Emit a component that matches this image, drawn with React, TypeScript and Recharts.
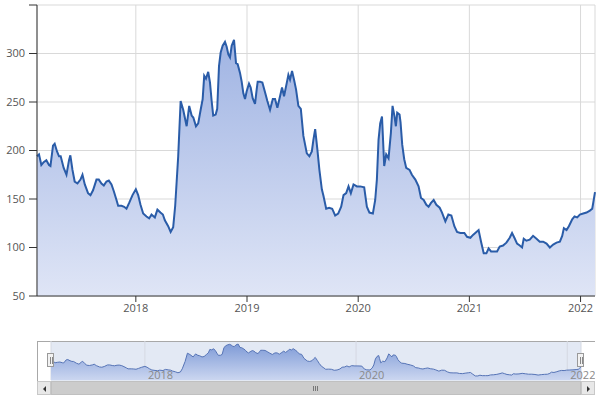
import { AreaChart, Area, XAxis, YAxis, CartesianGrid } from "recharts";

// time as fractional year, close value
const years = [
  2017.111, 2017.129, 2017.15, 2017.171, 2017.195, 2017.219, 2017.232, 2017.255, 2017.27, 2017.291,
  2017.309, 2017.324, 2017.351, 2017.376, 2017.399, 2017.411, 2017.43, 2017.45, 2017.475, 2017.502,
  2017.52, 2017.541, 2017.57, 2017.592, 2017.615, 2017.646, 2017.667, 2017.691, 2017.712, 2017.736,
  2017.757, 2017.781, 2017.802, 2017.826, 2017.841, 2017.871, 2017.895, 2017.916, 2017.94, 2017.97,
  2018.0, 2018.021, 2018.042, 2018.066, 2018.096, 2018.12, 2018.141, 2018.171, 2018.194, 2018.221,
  2018.243, 2018.261, 2018.291, 2018.313, 2018.336, 2018.354, 2018.381, 2018.403, 2018.426, 2018.457,
  2018.48, 2018.502, 2018.517, 2018.541, 2018.561, 2018.583, 2018.601, 2018.615, 2018.631, 2018.651,
  2018.667, 2018.682, 2018.696, 2018.718, 2018.732, 2018.748, 2018.763, 2018.781, 2018.802, 2018.817,
  2018.832, 2018.847, 2018.862, 2018.883, 2018.901, 2018.916, 2018.937, 2018.952, 2018.967, 2018.982,
  2018.997, 2019.018, 2019.033, 2019.051, 2019.072, 2019.087, 2019.096, 2019.117, 2019.138, 2019.162,
  2019.183, 2019.207, 2019.232, 2019.252, 2019.273, 2019.297, 2019.315, 2019.333, 2019.358, 2019.372,
  2019.387, 2019.405, 2019.423, 2019.441, 2019.462, 2019.484, 2019.507, 2019.538, 2019.561, 2019.583,
  2019.597, 2019.613, 2019.633, 2019.651, 2019.673, 2019.688, 2019.712, 2019.739, 2019.766, 2019.793,
  2019.82, 2019.847, 2019.868, 2019.892, 2019.913, 2019.934, 2019.958, 2019.989, 2020.018, 2020.054,
  2020.078, 2020.101, 2020.132, 2020.153, 2020.168, 2020.183, 2020.198, 2020.214, 2020.222, 2020.234,
  2020.252, 2020.273, 2020.294, 2020.309, 2020.327, 2020.339, 2020.351, 2020.372, 2020.381, 2020.396,
  2020.414, 2020.432, 2020.462, 2020.483, 2020.514, 2020.543, 2020.565, 2020.589, 2020.613, 2020.633,
  2020.655, 2020.679, 2020.703, 2020.733, 2020.754, 2020.784, 2020.811, 2020.838, 2020.865, 2020.889,
  2020.919, 2020.955, 2020.979, 2021.009, 2021.033, 2021.063, 2021.083, 2021.105, 2021.129, 2021.153,
  2021.173, 2021.195, 2021.225, 2021.249, 2021.273, 2021.303, 2021.333, 2021.363, 2021.384, 2021.405,
  2021.429, 2021.453, 2021.474, 2021.489, 2021.513, 2021.543, 2021.573, 2021.604, 2021.633, 2021.664,
  2021.694, 2021.724, 2021.754, 2021.784, 2021.814, 2021.835, 2021.85, 2021.874, 2021.895, 2021.925,
  2021.946, 2021.97, 2021.994, 2022.024, 2022.054, 2022.084, 2022.105, 2022.114, 2022.13,
];

const prices = [
  194, 196, 185, 188, 190, 185, 184, 205, 207, 199,
  194, 194, 182, 175, 190, 195, 180, 168, 166, 170,
  175, 165, 156, 154, 159, 170, 170, 166, 164, 168,
  169, 165, 158, 149, 143, 143, 142, 140, 146, 154,
  160, 154, 144, 135, 132, 130, 134, 131, 139, 136,
  134, 128, 122, 116, 121, 143, 194, 251, 242, 225,
  246, 236, 234, 225, 228, 242, 253, 277, 274, 281,
  270, 251, 236, 237, 243, 287, 301, 308, 312, 307,
  299, 296, 308, 314, 290, 289, 280, 271, 259, 253,
  261, 269, 265, 254, 248, 263, 271, 271, 270, 260,
  251, 242, 253, 253, 244, 256, 265, 256, 270, 278,
  273, 282, 273, 263, 246, 243, 215, 197, 194, 199,
  211, 222, 201, 180, 160, 153, 140, 141, 140, 133,
  135, 142, 154, 156, 163, 156, 165, 163, 163, 162,
  142, 136, 135, 149, 170, 211, 228, 235, 215, 184,
  196, 192, 218, 246, 235, 225, 239, 237, 229, 206,
  191, 182, 180, 175, 170, 163, 151, 149, 144, 142,
  146, 149, 144, 141, 136, 127, 134, 133, 122, 116,
  115, 115, 111, 110, 113, 116, 118, 106, 94, 94,
  99, 96, 96, 96, 101, 102, 105, 110, 115, 110,
  104, 102, 100, 109, 107, 108, 112, 109, 106, 106,
  104, 100, 103, 105, 106, 112, 120, 118, 122, 129,
  132, 131, 134, 135, 136, 138, 140, 146, 157,
];

const yearTicks = [2018, 2019, 2020, 2021, 2022];
const navTicks = [2018, 2020, 2022];
const valueTicks = [50, 100, 150, 200, 250, 300, 350];

const data = years.map((t, i) => ({ t, v: prices[i] }));

const font = "'Open Sans', 'Liberation Sans', sans-serif";

function NavTick(props: any) {
  const { x, y, payload } = props;
  return (
    <text x={x + 3} y={y - 9} fill="#8a8a8a" fontSize={11} fontFamily={font}>
      {payload.value}
    </text>
  );
}

function Handle({ left }: { left: number }) {
  return (
    <div
      style={{
        position: "absolute",
        left: left - 4,
        top: 353,
        width: 7,
        height: 14,
        background: "#f2f2f2",
        border: "1px solid #999",
        boxSizing: "border-box",
      }}
    >
      <div style={{ position: "absolute", left: 1.5, top: 3, width: 1, height: 7, background: "#888" }} />
      <div style={{ position: "absolute", left: 3.5, top: 3, width: 1, height: 7, background: "#888" }} />
    </div>
  );
}

function Arrow({ dir }: { dir: "left" | "right" }) {
  return (
    <div
      style={{
        position: "absolute",
        left: 5,
        top: 4,
        width: 0,
        height: 0,
        borderTop: "3px solid transparent",
        borderBottom: "3px solid transparent",
        borderRight: dir === "left" ? "3px solid #333" : undefined,
        borderLeft: dir === "right" ? "3px solid #333" : undefined,
      }}
    />
  );
}

export default function App() {
  return (
    <div style={{ position: "absolute", left: 0, top: 0, width: 600, height: 400, background: "#fff" }}>
      <AreaChart width={600} height={320} data={data} margin={{ top: 5, right: 5, left: 0, bottom: 0 }}>
        <defs>
          <linearGradient id="mainFill" x1="0" y1="0" x2="0" y2="1">
            <stop offset="0%" stopColor="#a0b4e3" />
            <stop offset="100%" stopColor="#dfe5f6" />
          </linearGradient>
        </defs>
        <CartesianGrid stroke="#d9d9d9" />
        <XAxis
          dataKey="t"
          type="number"
          domain={["dataMin", "dataMax"]}
          ticks={yearTicks}
          tickFormatter={(v) => String(v)}
          height={24}
          stroke="#333"
          tickSize={6}
          tick={{ fill: "#555", fontSize: 11, fontFamily: font }}
        />
        <YAxis
          type="number"
          domain={[50, 350]}
          ticks={valueTicks}
          tickFormatter={(v) => (v === 350 ? "" : String(v))}
          width={37}
          stroke="#333"
          tickSize={8}
          tickMargin={4}
          tick={{ fill: "#555", fontSize: 11, fontFamily: font }}
        />
        <Area
          type="linear"
          dataKey="v"
          stroke="#2a5ca8"
          strokeWidth={2}
          fill="url(#mainFill)"
          fillOpacity={1}
          isAnimationActive={false}
          dot={false}
          activeDot={false}
        />
      </AreaChart>

      {/* navigator */}
      <div
        style={{
          position: "absolute",
          left: 37,
          top: 341,
          width: 558,
          height: 40,
          borderTop: "1px solid #a8a8a8",
          borderLeft: "1px solid #a8a8a8",
          boxSizing: "border-box",
        }}
      />
      <div style={{ position: "absolute", left: 51, top: 342, width: 530, height: 39, background: "rgba(102,133,194,0.18)" }} />
      <div style={{ position: "absolute", left: 37, top: 341 }}>
        <AreaChart width={558} height={40} data={data} margin={{ top: 0, right: 14, left: 14, bottom: 0 }}>
          <defs>
            <linearGradient id="navFill" x1="0" y1="0" x2="0" y2="1">
              <stop offset="0%" stopColor="#7f9bd7" />
              <stop offset="100%" stopColor="#cbd6f0" />
            </linearGradient>
          </defs>
          <CartesianGrid stroke="#d5d9e2" horizontal={false} />
          <XAxis
            dataKey="t"
            type="number"
            domain={["dataMin", "dataMax"]}
            ticks={navTicks}
            height={1}
            axisLine={false}
            tickLine={false}
            tick={<NavTick />}
          />
          <YAxis hide domain={[66, 335]} />
          <Area
            type="linear"
            dataKey="v"
            stroke="#5674b6"
            strokeWidth={1}
            fill="url(#navFill)"
            fillOpacity={1}
            isAnimationActive={false}
            dot={false}
            activeDot={false}
          />
        </AreaChart>
      </div>
      <Handle left={51} />
      <Handle left={581} />

      {/* scrollbar */}
      <div
        style={{
          position: "absolute",
          left: 37,
          top: 381,
          width: 558,
          height: 14,
          background: "#f2f2f2",
          border: "1px solid #d0d0d0",
          boxSizing: "border-box",
        }}
      />
      <div
        style={{
          position: "absolute",
          left: 51,
          top: 381,
          width: 530,
          height: 14,
          background: "#cccccc",
          border: "1px solid #c0c0c0",
          boxSizing: "border-box",
        }}
      >
        {[0, 2, 4].map((d) => (
          <div key={d} style={{ position: "absolute", left: 261 + d, top: 4, width: 1, height: 5, background: "#777" }} />
        ))}
      </div>
      <div
        style={{
          position: "absolute",
          left: 37,
          top: 381,
          width: 14,
          height: 14,
          background: "#e8e8e8",
          border: "1px solid #c8c8c8",
          boxSizing: "border-box",
        }}
      >
        <Arrow dir="left" />
      </div>
      <div
        style={{
          position: "absolute",
          left: 581,
          top: 381,
          width: 14,
          height: 14,
          background: "#e8e8e8",
          border: "1px solid #c8c8c8",
          boxSizing: "border-box",
        }}
      >
        <Arrow dir="right" />
      </div>
    </div>
  );
}
